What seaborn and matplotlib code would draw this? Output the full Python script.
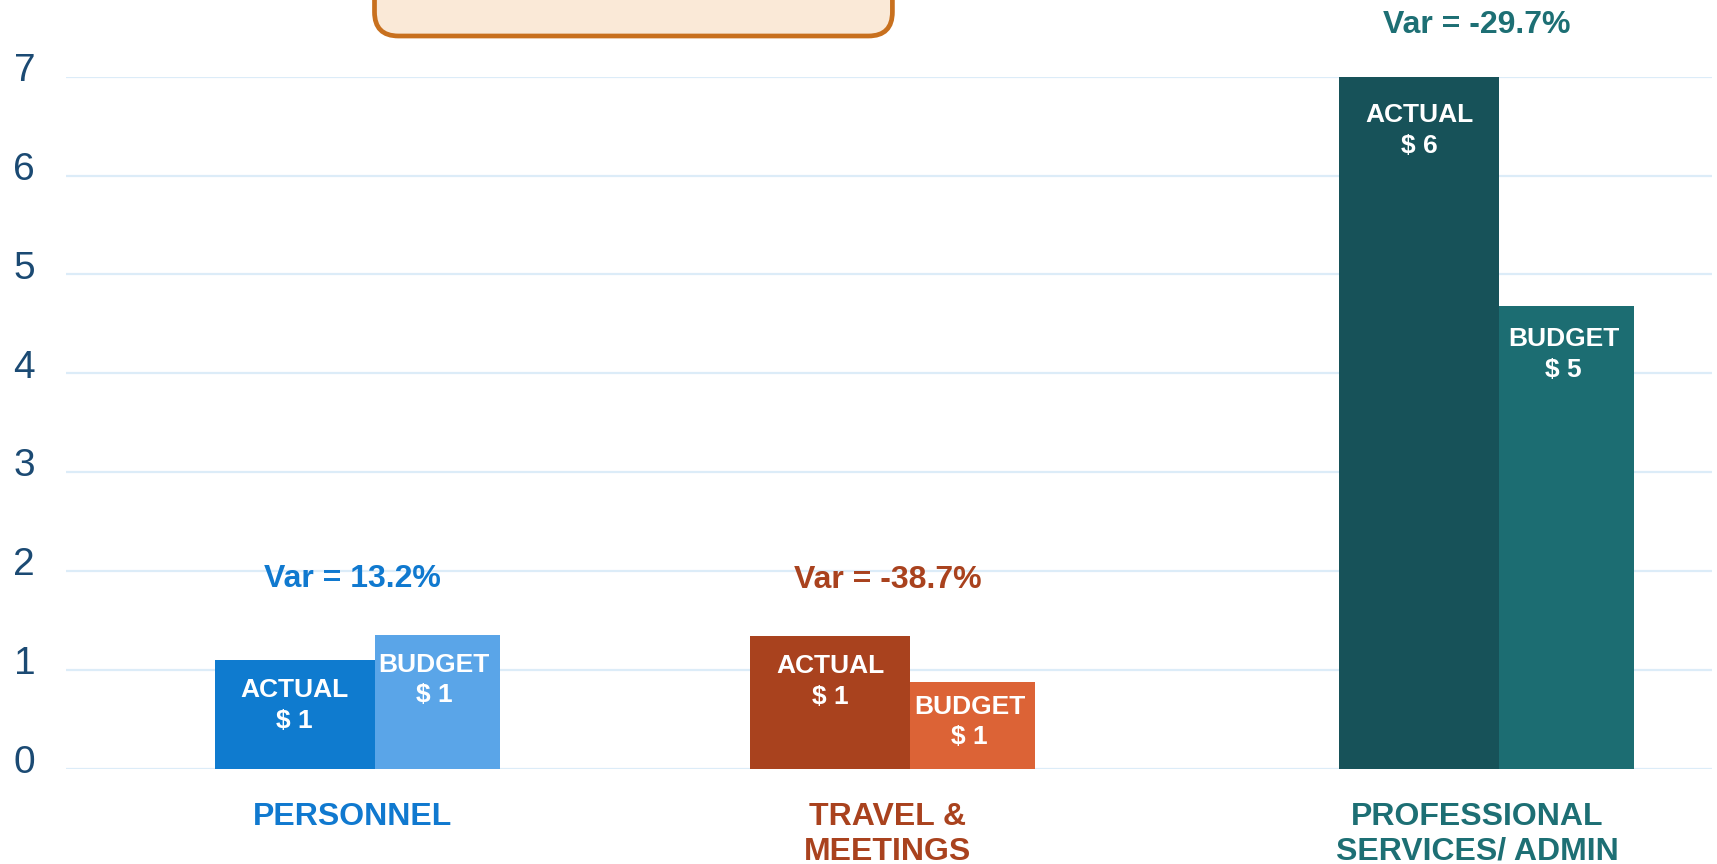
import matplotlib
matplotlib.use("Agg")
import matplotlib.pyplot as plt
import matplotlib.transforms as mtransforms
from matplotlib.patches import FancyBboxPatch
import seaborn as sns

# data
categories = ["PERSONNEL", "TRAVEL &\nMEETINGS", "PROFESSIONAL\nSERVICES/ ADMIN"]
actual = [1.10, 1.34, 7.00]
budget = [1.35, 0.875, 4.68]
actual_labels = ["$ 1", "$ 1", "$ 6"]
budget_labels = ["$ 1", "$ 1", "$ 5"]
variance = ["13.2%", "-38.7%", "-29.7%"]
yticks = [0, 1, 2, 3, 4, 5, 6, 7]

# layout / style
group_x = [352.5, 888, 1477]          # group centres (axis units)
actual_w = 160
budget_w = [125, 125, 135]
actual_colors = ["#0f7bcf", "#a9421e", "#175259"]
budget_colors = ["#5aa5e8", "#dc6336", "#1c6d72"]
text_colors = ["#1079cf", "#a9421e", "#1d6f74"]
actual_drop = [13, 13, 19]            # pt below bar top for in-bar labels
budget_drop = [12.5, 9, 15]
var_gap = [0.57, 0.57, 0.52]          # gap above the taller bar

sns.set_theme(style="white")
plt.rcParams["font.family"] = ["Liberation Sans", "DejaVu Sans"]

W, H = 1717, 864
fig = plt.figure(figsize=(W / 100, H / 100), dpi=100)
ax = fig.add_axes([65.7 / W, 1 - 768.7 / H, (1712 - 65.7) / W, (768.7 - 76.7) / H])

for i in range(len(categories)):
    xa = group_x[i] - 138 + actual_w / 2
    xb = group_x[i] + 22 + budget_w[i] / 2
    sns.barplot(x=[xa], y=[actual[i]], native_scale=True, width=actual_w,
                color=actual_colors[i], saturation=1, linewidth=0, ax=ax, zorder=3)
    sns.barplot(x=[xb], y=[budget[i]], native_scale=True, width=budget_w[i],
                color=budget_colors[i], saturation=1, linewidth=0, ax=ax, zorder=3)

    ax.annotate("ACTUAL\n" + actual_labels[i], xy=(xa, actual[i]),
                xytext=(0, -actual_drop[i]), textcoords="offset points",
                ha="center", va="top", color="white", fontsize=19,
                fontweight="bold", linespacing=1.35, zorder=4)
    ax.annotate("BUDGET\n" + budget_labels[i], xy=(xb, budget[i]),
                xytext=(-2, -budget_drop[i]), textcoords="offset points",
                ha="center", va="top", color="white", fontsize=19,
                fontweight="bold", linespacing=1.35, zorder=4)

    top = max(actual[i], budget[i])
    ax.text(group_x[i], top + var_gap[i], "Var = " + variance[i], ha="center", va="center",
            color=text_colors[i], fontsize=23, fontweight="bold", clip_on=False)

    ax.annotate(categories[i], xy=(group_x[i], 0), xycoords=("data", "axes fraction"),
                xytext=(0, -24), textcoords="offset points", ha="center", va="top",
                multialignment="center", color=text_colors[i], fontsize=23,
                fontweight="bold", linespacing=1.2, annotation_clip=False)

ax.set_xlim(65.7, 1712)
ax.set_ylim(0, 7)
ax.set_yticks(yticks)
ax.set_yticklabels([str(t) for t in yticks])
ax.set_xticks([])
ax.set_xlabel("")
ax.set_ylabel("")
ax.grid(axis="y", color="#dcecf8", linewidth=1.6, zorder=0)
ax.set_axisbelow(True)
sns.despine(ax=ax, left=True, bottom=True)
ax.tick_params(axis="y", length=0, pad=22, labelsize=28, labelcolor="#1b4a73")
shift = mtransforms.ScaledTranslation(0, 7 / 72, fig.dpi_scale_trans)
for lab in ax.get_yticklabels():
    lab.set_transform(lab.get_transform() + shift)

# rounded callout box cut by the top edge
box = FancyBboxPatch((3.745, 8.28), 8.924 - 3.745, 1.2,
                     boxstyle="round,pad=0,rounding_size=0.24",
                     transform=fig.dpi_scale_trans, facecolor="#fae9d7",
                     edgecolor="#c8701e", linewidth=3.4, clip_on=False)
fig.patches.append(box)

fig.savefig("out.png", dpi=100)
